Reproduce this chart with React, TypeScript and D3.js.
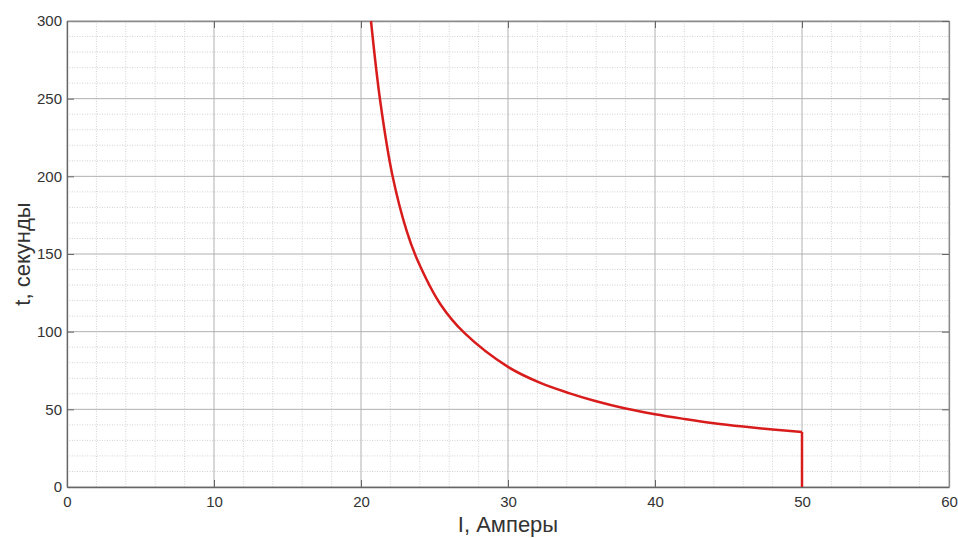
import React, { useEffect, useRef } from "react";
import * as d3 from "d3";

// current, A
const currents = [20.68, 21.3, 22.15, 23.1, 23.8, 25.45, 27.05, 30, 32.2, 34.2, 36, 38, 40, 42, 44, 46, 48, 50];
// trip time, s
const times = [300, 249, 200, 165, 147, 117, 99, 77.3, 67, 60.3, 55.2, 50.5, 46.8, 43.8, 41.1, 38.9, 37, 35.4];
const xTicks = [0, 10, 20, 30, 40, 50, 60];
const yTicks = [0, 50, 100, 150, 200, 250, 300];

export default function App() {
  const ref = useRef<SVGSVGElement>(null);

  useEffect(() => {
    const width = 958;
    const height = 538;
    const margin = { top: 21, left: 67, bottom: 51, right: 9 };
    const iwidth = width - margin.left - margin.right;
    const iheight = height - margin.top - margin.bottom;
    const font = "'Liberation Sans', Arial, sans-serif";

    const svg = d3.select(ref.current);
    svg.selectAll("*").remove();

    const g = svg
      .append("g")
      .attr("transform", `translate(${margin.left},${margin.top})`);

    const x = d3.scaleLinear().domain([0, 60]).range([0, iwidth]);
    const y = d3.scaleLinear().domain([0, 300]).range([iheight, 0]);

    // minor grid
    const minorX = d3.range(0, 60.01, 2).filter(v => v % 10 !== 0);
    const minorY = d3.range(0, 300.01, 10).filter(v => v % 50 !== 0);
    g.selectAll(".mx")
      .data(minorX)
      .enter()
      .append("line")
      .attr("x1", d => x(d))
      .attr("x2", d => x(d))
      .attr("y1", 0)
      .attr("y2", iheight)
      .attr("stroke", "#d2d2d2")
      .attr("stroke-dasharray", "1,1.5");
    g.selectAll(".my")
      .data(minorY)
      .enter()
      .append("line")
      .attr("x1", 0)
      .attr("x2", iwidth)
      .attr("y1", d => y(d))
      .attr("y2", d => y(d))
      .attr("stroke", "#d2d2d2")
      .attr("stroke-dasharray", "1,1.5");

    // major grid
    g.selectAll(".gx")
      .data(xTicks)
      .enter()
      .append("line")
      .attr("x1", d => x(d))
      .attr("x2", d => x(d))
      .attr("y1", 0)
      .attr("y2", iheight)
      .attr("stroke", "#b0b0b0");
    g.selectAll(".gy")
      .data(yTicks)
      .enter()
      .append("line")
      .attr("x1", 0)
      .attr("x2", iwidth)
      .attr("y1", d => y(d))
      .attr("y2", d => y(d))
      .attr("stroke", "#b0b0b0");

    // axes, ticks pointing inward on all sides
    const fmt = d3.format("d");
    const styleAxis = (sel: any) => {
      sel.select(".domain").attr("stroke", "#666").attr("stroke-width", 1.3);
      sel.selectAll(".tick line").attr("stroke", "#666");
      sel
        .selectAll("text")
        .attr("fill", "#333")
        .style("font-family", font)
        .style("font-size", "15px");
    };

    g.append("g")
      .attr("transform", `translate(0,${iheight})`)
      .call(d3.axisBottom(x).tickValues(xTicks).tickFormat(fmt).tickSizeInner(-7).tickSizeOuter(0).tickPadding(9))
      .call(styleAxis);
    g.append("g")
      .call(d3.axisLeft(y).tickValues(yTicks).tickFormat(fmt).tickSizeInner(-7).tickSizeOuter(0).tickPadding(5))
      .call(styleAxis);
    g.append("g")
      .call(d3.axisTop(x).tickValues(xTicks).tickFormat(() => "").tickSizeInner(-7).tickSizeOuter(0))
      .call(styleAxis)
      .select(".domain")
      .attr("stroke", "#8a8a8a");
    g.append("g")
      .attr("transform", `translate(${iwidth},0)`)
      .call(d3.axisRight(y).tickValues(yTicks).tickFormat(() => "").tickSizeInner(-7).tickSizeOuter(0))
      .call(styleAxis)
      .select(".domain")
      .attr("stroke", "#8a8a8a");

    // curve
    const pts: [number, number][] = currents.map((c, i) => [c, times[i]]);
    const line = d3
      .line<[number, number]>()
      .x(d => x(d[0]))
      .y(d => y(d[1]))
      .curve(d3.curveCatmullRom.alpha(0.5));
    g.append("path")
      .attr("d", line(pts))
      .attr("fill", "none")
      .attr("stroke", "#d81c1c")
      .attr("stroke-width", 2.5);
    const last = pts[pts.length - 1];
    g.append("path")
      .attr("d", d3.line<[number, number]>().x(d => x(d[0])).y(d => y(d[1]))([last, [last[0], 0]]))
      .attr("fill", "none")
      .attr("stroke", "#d81c1c")
      .attr("stroke-width", 2.5);

    // labels
    svg
      .append("text")
      .attr("x", margin.left + iwidth / 2)
      .attr("y", 532)
      .attr("text-anchor", "middle")
      .attr("fill", "#333")
      .style("font-family", font)
      .style("font-size", "22px")
      .text("I, Амперы");
    svg
      .append("text")
      .attr("transform", `translate(30,${margin.top + iheight / 2}) rotate(-90)`)
      .attr("text-anchor", "middle")
      .attr("fill", "#333")
      .style("font-family", font)
      .style("font-size", "22px")
      .text("t, секунды");
  }, []);

  return (
    <svg
      ref={ref}
      width={958}
      height={538}
      style={{ position: "absolute", left: 0, top: 0, background: "#fff" }}
    />
  );
}
